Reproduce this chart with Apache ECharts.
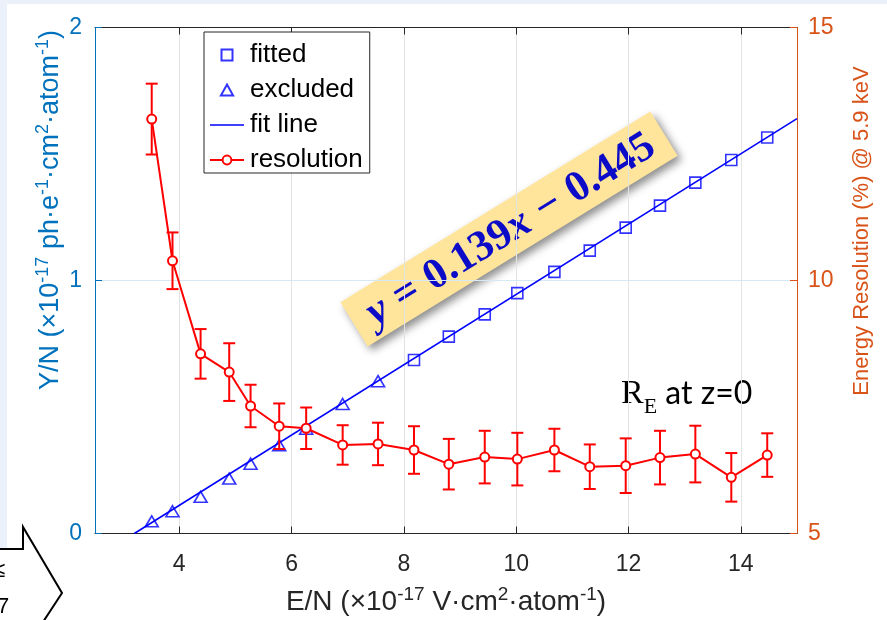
<!DOCTYPE html>
<html>
<head>
<meta charset="utf-8">
<script src="https://cdn.jsdelivr.net/npm/echarts@6/dist/echarts.min.js"></script>
<style>
  html, body { margin: 0; padding: 0; background: #ffffff; }
  #chart { width: 887px; height: 620px; }
</style>
</head>
<body>
<div id="chart"></div>
<script>
// Reduced field E/N (×10^-17 V·cm²·atom^-1), shared by both measurements
const fieldValues = [3.51, 3.88, 4.38, 4.89, 5.27, 5.78, 6.26, 6.91, 7.54,
                     8.18, 8.80, 9.44, 10.02, 10.68, 11.31, 11.95, 12.56, 13.19, 13.83, 14.47];
// Reduced yield Y/N: first nine points are excluded from the fit, the rest are fitted
const excludedCount = 9;
const yieldValues = [0.048, 0.088, 0.145, 0.217, 0.276, 0.349, 0.414, 0.512, 0.602,
                     0.686, 0.778, 0.866, 0.950, 1.034, 1.118, 1.209, 1.296, 1.387, 1.476, 1.565];
// Energy resolution (%) at 5.9 keV and its uncertainty (half-width)
const resolutionValues = [13.19, 10.39, 8.55, 8.19, 7.52, 7.12, 7.08, 6.75, 6.77, 6.65,
                          6.37, 6.51, 6.47, 6.65, 6.32, 6.34, 6.50, 6.57, 6.11, 6.55];
const resolutionErrors = [0.70, 0.56, 0.49, 0.57, 0.42, 0.45, 0.41, 0.39, 0.42, 0.47,
                          0.50, 0.52, 0.52, 0.42, 0.44, 0.54, 0.53, 0.56, 0.48, 0.43];
// Linear fit y = slope·x + intercept, drawn over [fitStart, fitEnd]
const fitSlope = 0.139;
const fitIntercept = -0.445;
const fitStart = 3.2;
const fitEnd = 15;
// Axis ticks
const xTicks = [4, 6, 8, 10, 12, 14];

const BLUE_AXIS = '#0072BD';
const ORANGE_AXIS = '#D95319';
const DARK = '#262626';
const FONT = '"Liberation Sans", Arial, sans-serif';
const SERIF = '"Liberation Serif", "DejaVu Serif", serif';

const fittedData = [];
const excludedData = [];
fieldValues.forEach((x, i) => {
  (i < excludedCount ? excludedData : fittedData).push([x, yieldValues[i]]);
});
const fitLineData = [fitStart, fitEnd].map(x => [x, fitSlope * x + fitIntercept]);
const resolutionData = fieldValues.map((x, i) => [x, resolutionValues[i]]);
const errorData = fieldValues.map((x, i) => [x, resolutionValues[i] - resolutionErrors[i], resolutionValues[i] + resolutionErrors[i]]);

const chart = echarts.init(document.getElementById('chart'), null, { renderer: 'canvas' });

// rich-text pieces for axis titles with superscripts
const baseStyle = (color, size) => ({ fontSize: size, fontFamily: FONT, fill: color, lineHeight: 34 });
const supStyle = (color, size) => ({ fontSize: size, fontFamily: FONT, fill: color, verticalAlign: 'top', lineHeight: 16 });

const option = {
  backgroundColor: '#ffffff',
  animation: false,
  grid: { left: 95, right: 90, top: 27.5, bottom: 86.5, containLabel: false },
  legend: {
    left: 204, top: 32, orient: 'vertical',
    backgroundColor: '#ffffff', borderColor: '#262626', borderWidth: 1,
    padding: [10, 7, 0, 5], itemGap: 9, itemWidth: 34, itemHeight: 11,
    symbolKeepAspect: true,
    textStyle: { fontSize: 26, fontFamily: FONT, color: '#000000', padding: [0, 0, 0, 1] },
    data: [
      { name: 'fitted', icon: 'path://M0,0H10V10H0Z' },
      { name: 'excluded', icon: 'path://M5,0L10,9L0,9Z' },
      { name: 'fit line', icon: 'path://M0,0H34V1.6H0Z' },
      { name: 'resolution' }
    ]
  },
  xAxis: [{
    type: 'value', min: 2.5, max: 15, position: 'bottom',
    axisLine: { onZero: false, lineStyle: { color: DARK, width: 1 } },
    axisTick: { inside: true, length: 7, customValues: xTicks, lineStyle: { color: DARK } },
    axisLabel: { customValues: xTicks, margin: 20, fontSize: 23, fontFamily: FONT, color: DARK },
    splitLine: { show: true, lineStyle: { color: '#E3E3E3', width: 1 } }
  }, {
    type: 'value', min: 2.5, max: 15, position: 'top',
    axisLine: { onZero: false, lineStyle: { color: DARK, width: 1 } },
    axisTick: { inside: true, length: 7, customValues: xTicks, lineStyle: { color: DARK } },
    axisLabel: { show: false },
    splitLine: { show: false }
  }],
  yAxis: [{
    type: 'value', min: 0, max: 2, interval: 1, position: 'left',
    axisLine: { show: true, onZero: false, lineStyle: { color: BLUE_AXIS, width: 1 } },
    axisTick: { show: true, inside: true, length: 7, lineStyle: { color: BLUE_AXIS } },
    axisLabel: { margin: 13, fontSize: 23, fontFamily: FONT, color: BLUE_AXIS },
    splitLine: { show: true, lineStyle: { color: '#D6E8F5', width: 1 } }
  }, {
    type: 'value', min: 5, max: 15, interval: 5, position: 'right',
    axisLine: { show: true, onZero: false, lineStyle: { color: ORANGE_AXIS, width: 1 } },
    axisTick: { show: true, inside: true, length: 7, lineStyle: { color: ORANGE_AXIS } },
    axisLabel: { margin: 11, fontSize: 23, fontFamily: FONT, color: ORANGE_AXIS },
    splitLine: { show: false }
  }],
  series: [{
    name: 'fit line', type: 'line', xAxisIndex: 0, yAxisIndex: 0,
    data: fitLineData, symbol: 'none', z: 3,
    lineStyle: { color: '#0000FF', width: 1.6 },
    itemStyle: { color: '#0000FF' }
  }, {
    name: 'fitted', type: 'scatter', xAxisIndex: 0, yAxisIndex: 0,
    data: fittedData, symbol: 'rect', symbolSize: 11, z: 4,
    itemStyle: { color: 'rgba(255,255,255,0)', borderColor: '#0000FF', borderWidth: 1.6 }
  }, {
    name: 'excluded', type: 'scatter', xAxisIndex: 0, yAxisIndex: 0,
    data: excludedData, symbol: 'triangle', symbolSize: [13, 11], z: 4,
    itemStyle: { color: 'rgba(255,255,255,0)', borderColor: '#0000FF', borderWidth: 1.6 }
  }, {
    name: 'resolution', type: 'line', xAxisIndex: 0, yAxisIndex: 1,
    data: resolutionData, symbol: 'emptyCircle', symbolSize: 9, z: 5,
    lineStyle: { color: '#FF0000', width: 2 },
    itemStyle: { color: '#FF0000', borderColor: '#FF0000', borderWidth: 1.4 }
  }, {
    name: 'resolution error', type: 'custom', xAxisIndex: 0, yAxisIndex: 1,
    data: errorData, z: 5,
    encode: { x: 0, y: [1, 2] },
    renderItem: function (params, api) {
      const lo = api.coord([api.value(0), api.value(1)]);
      const hi = api.coord([api.value(0), api.value(2)]);
      const half = 6;
      const style = { stroke: '#FF0000', lineWidth: 2 };
      return {
        type: 'group',
        children: [
          { type: 'line', shape: { x1: lo[0], y1: lo[1], x2: hi[0], y2: hi[1] }, style: style },
          { type: 'line', shape: { x1: lo[0] - half, y1: lo[1], x2: lo[0] + half, y2: lo[1] }, style: style },
          { type: 'line', shape: { x1: hi[0] - half, y1: hi[1], x2: hi[0] + half, y2: hi[1] }, style: style }
        ]
      };
    }
  }],
  graphic: [
    // page frame strips
    { type: 'rect', shape: { x: 0, y: 0, width: 887, height: 4 }, style: { fill: '#EAF1FA' }, z: -10, silent: true },
    { type: 'rect', shape: { x: 0, y: 0, width: 7, height: 548 }, style: { fill: '#EAF1FA' }, z: -10, silent: true },
    { type: 'polyline', shape: { points: [[0, 549], [23, 549], [23, 527], [62, 593], [43, 622]] },
      style: { stroke: '#000000', lineWidth: 2, fill: null }, silent: true },
    { type: 'text', x: -7, y: 571, style: { text: '≤', font: '22px ' + FONT, fill: '#000000', verticalAlign: 'middle' }, silent: true },
    { type: 'text', x: -3, y: 607, style: { text: '7', font: '22px ' + FONT, fill: '#000000', verticalAlign: 'middle' }, silent: true },
    // axis titles
    {
      type: 'text', x: 51, y: 210, rotation: Math.PI / 2, silent: true,
      style: {
        text: '{b|Y/N (×10}{s|-17}{b| ph·e}{s|-1}{b|·cm}{s|2}{b|·atom}{s|-1}{b|)}',
        align: 'center', verticalAlign: 'middle',
        rich: { b: baseStyle(BLUE_AXIS, 27), s: supStyle(BLUE_AXIS, 18) }
      }
    },
    {
      type: 'text', x: 862, y: 231, rotation: Math.PI / 2, silent: true,
      style: {
        text: 'Energy Resolution (%) @ 5.9 keV',
        font: '22px ' + FONT,
        fill: ORANGE_AXIS, align: 'center', verticalAlign: 'middle'
      }
    },
    {
      type: 'text', x: 446, y: 602, silent: true,
      style: {
        text: '{b|E/N (×10}{s|-17}{b| V·cm}{s|2}{b|·atom}{s|-1}{b|)}',
        align: 'center', verticalAlign: 'middle',
        rich: { b: baseStyle(DARK, 28), s: supStyle(DARK, 19) }
      }
    },
    // fit equation banner
    {
      type: 'group', x: 509, y: 229, rotation: 0.552, silent: true,
      children: [
        { type: 'rect', shape: { x: -182, y: -26, width: 364, height: 52 },
          style: { fill: '#FFE59C', shadowBlur: 8, shadowColor: 'rgba(0,0,0,0.45)', shadowOffsetX: 4, shadowOffsetY: 4 } },
        { type: 'text', x: 1, y: 2,
          style: {
            text: '{i|y}{o|=}{n|0.139}{i|x}{o|−}{n|0.445}',
            align: 'center', verticalAlign: 'middle',
            rich: {
              i: { fontSize: 43, fontFamily: SERIF, fontStyle: 'italic', fontWeight: 'bold', fill: '#0B0BC8' },
              n: { fontSize: 43, fontFamily: SERIF, fontWeight: 'bold', fill: '#0B0BC8' },
              o: { fontSize: 43, fontFamily: SERIF, fontWeight: 'bold', fill: '#0B0BC8', padding: [0, 12, 0, 12] }
            }
          }
        }
      ]
    },
    // condition note
    {
      type: 'text', x: 621, y: 394, silent: true,
      style: {
        text: '{r|R}{e|E}{t| at z=0}',
        verticalAlign: 'middle',
        rich: {
          r: { fontSize: 34, fontFamily: SERIF, fill: '#000000', lineHeight: 48 },
          e: { fontSize: 22, fontFamily: SERIF, fill: '#000000', verticalAlign: 'bottom', lineHeight: 22 },
          t: { fontSize: 32, fontFamily: 'Lato, "Open Sans", sans-serif', fill: '#000000', lineHeight: 48 }
        }
      }
    }
  ]
};

chart.setOption(option);
</script>
</body>
</html>
